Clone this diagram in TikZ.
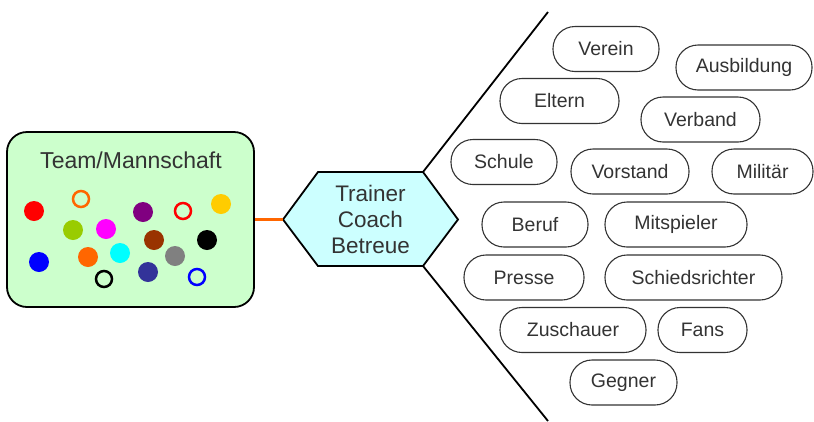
\documentclass[tikz,border=0pt]{standalone}
\usepackage{fontspec}
\setmainfont{Liberation Sans}
\usetikzlibrary{positioning}
\definecolor{lg}{HTML}{CCFFCC}
\definecolor{lc}{HTML}{CCFFFF}
\definecolor{og}{HTML}{FF6600}
\definecolor{olive}{HTML}{99CC00}
\definecolor{mag}{HTML}{FF00FF}
\definecolor{cy}{HTML}{00FFFF}
\definecolor{pu}{HTML}{800080}
\definecolor{gold}{HTML}{FFCC00}
\definecolor{br}{HTML}{993300}
\definecolor{nv}{HTML}{333399}
\definecolor{ink}{HTML}{333333}
\newcommand{\fullspot}[2]{
\fill[#1] #2 circle [radius=10];
}
\newcommand{\ringspot}[2]{
\draw[#1,line width=2.5] #2 circle [radius=8];
}
\tikzset{
pill/.style={draw=ink,line width=1.1pt,rounded corners=22pt,minimum height=45pt,minimum width=#1,inner sep=0pt,text=ink,font=\fontsize{19.5}{22}\selectfont},
big/.style={text=ink,font=\fontsize{22.5}{26}\selectfont}
}

\begin{document}
\begin{tikzpicture}[x=1pt,y=-1pt]
\useasboundingbox (0,0) rectangle (814,421);
\node[draw,line width=1.8pt,fill=lg,rounded corners=20pt,minimum width=247pt,minimum height=175pt] (team) at (130.5,219.5) {};
\node[big,font=\fontsize{23}{26}\selectfont] (teamtitle) at (131,160) {Team/Mannschaft};
\fullspot{red}{(34,211)};
\ringspot{og}{(81,199)};
\fullspot{olive}{(73,230)};
\fullspot{mag}{(106,229)};
\fullspot{blue}{(39,262)};
\fullspot{og}{(88,257)};
\fullspot{cy}{(120,253)};
\ringspot{black}{(104,279)};
\fullspot{pu}{(143,212)};
\ringspot{red}{(183,211)};
\fullspot{gold}{(221,204)};
\fullspot{br}{(154,240)};
\fullspot{black}{(207,240)};
\fullspot{gray}{(175,256)};
\fullspot{nv}{(148,272)};
\ringspot{blue}{(197,277)};
% hexagon
\coordinate (hexW) at (283,219.5);
\coordinate (hexNW) at (318,172);
\coordinate (hexNE) at (423,172);
\coordinate (hexE) at (458,219.5);
\coordinate (hexSE) at (423,266);
\coordinate (hexSW) at (318,266);
\filldraw[fill=lc,line width=1.8pt,line join=miter] (hexW) -- (hexNW) -- (hexNE) -- (hexE) -- (hexSE) -- (hexSW) -- cycle;
\node[big,align=center] (coach) at (370.5,219) {Trainer\\Coach\\Betreue};
\draw[og,line width=3pt] (team.east) -- (hexW);
\coordinate (topend) at (548,12);
\coordinate (botend) at (548,421);
\draw[line width=1.8pt] (hexNE) -- (topend);
\draw[line width=1.8pt] (hexSE) -- (botend);
% Umfeld
\node[pill=106pt] (verein) at (606,49) {Verein};
\node[pill=136pt] (ausbildung) at (744,67.5) {Ausbildung};
\node[pill=119pt] (eltern) at (559.5,101) {Eltern};
\node[pill=119pt] (verband) at (700.5,119.5) {Verband};
\node[pill=106pt] (schule) at (504,162) {Schule};
\node[pill=118pt] (vorstand) at (630,171.5) {Vorstand};
\node[pill=101pt] (militaer) at (762.5,171.5) {Militär};
\node[pill=106pt] (beruf) at (535,224.5) {Beruf};
\node[pill=142pt] (mitspieler) at (676,224.5) {Mitspieler};
\node[pill=120pt] (presse) at (524,277.5) {Presse};
\node[pill=177pt] (schiri) at (693.5,277.5) {Schiedsrichter};
\node[pill=146pt] (zuschauer) at (573,330) {Zuschauer};
\node[pill=89pt] (fans) at (702.5,330) {Fans};
\node[pill=107pt] (gegner) at (623.5,382.5) {Gegner};
\end{tikzpicture}
\end{document}
